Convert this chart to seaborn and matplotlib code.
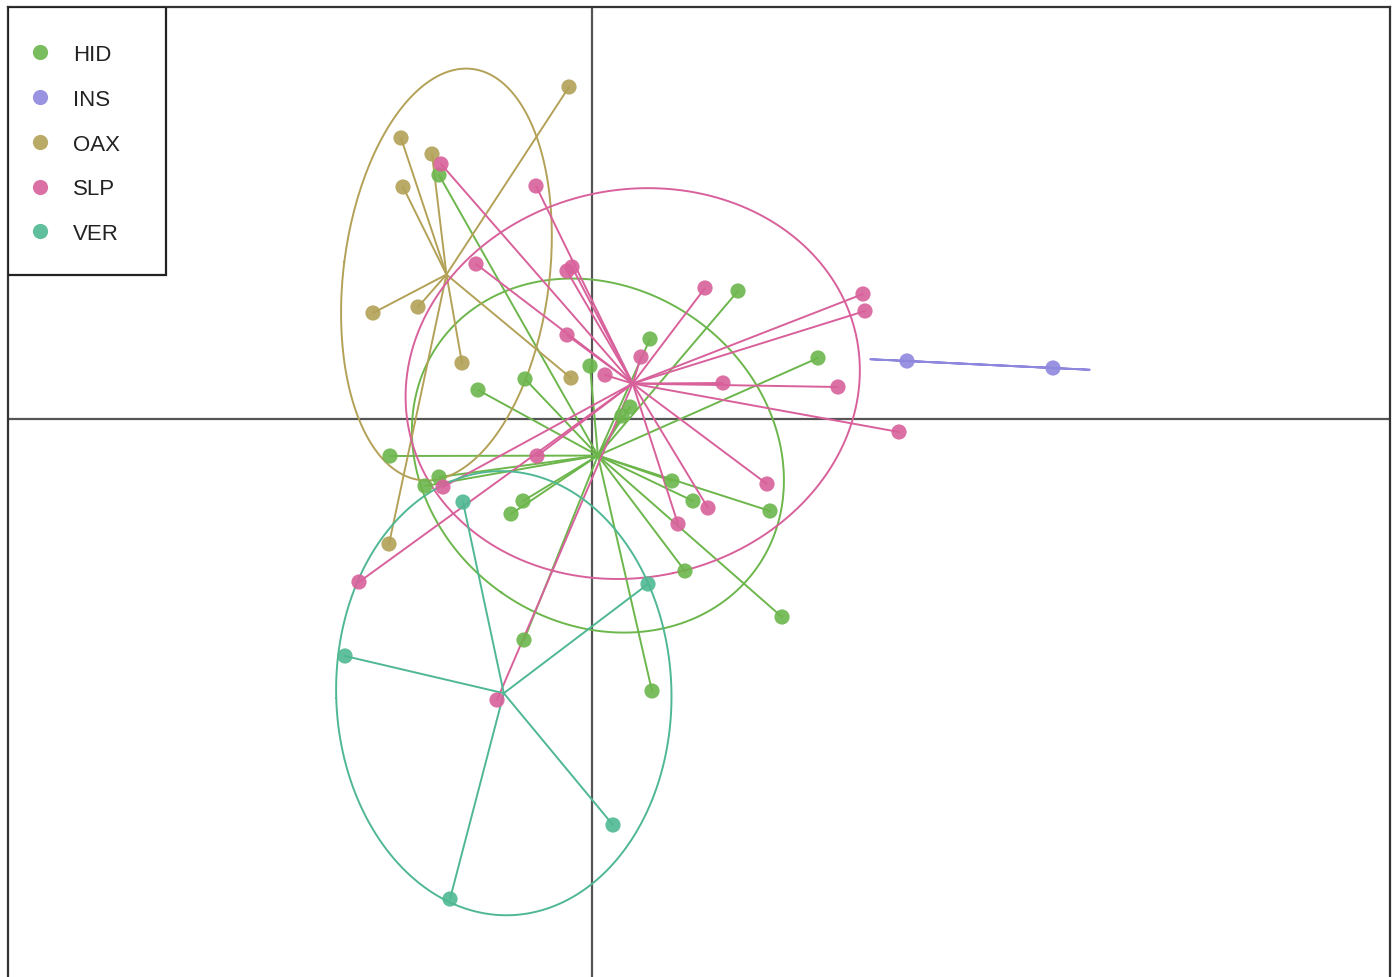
import numpy as np
import pandas as pd
import matplotlib
matplotlib.use("Agg")
import matplotlib.pyplot as plt
from matplotlib.patches import Rectangle
import seaborn as sns

# Factorial map scores (axis 1, axis 2) by population
hid_x = [-1.53, 0.58, 1.46, 2.26, -0.02, -0.67, -1.14, -2.02, -1.67, -1.53, -0.69,
         -0.81, -0.68, 0.38, 0.30, 0.80, 1.01, 1.78, 0.93, 1.90, 0.60]
hid_y = [2.44, 0.80, 1.28, 0.61, 0.53, 0.40, 0.29, -0.37, -0.67, -0.58, -0.82,
         -0.95, -2.21, 0.12, 0.03, -0.62, -0.82, -0.92, -1.52, -1.98, -2.72]

ins_x = [3.15, 4.61]
ins_y = [0.58, 0.51]

oax_x = [-1.91, -1.60, -1.89, -0.23, -2.19, -1.74, -1.30, -0.21, -2.03]
oax_y = [2.81, 2.65, 2.32, 3.32, 1.06, 1.12, 0.56, 0.41, -1.25]

slp_x = [-1.51, -0.56, -1.16, -0.25, -0.20, -0.25, 0.13, 0.49, 1.13, 2.71, 2.73,
         1.31, 2.46, 3.07, -0.55, -1.49, -2.33, -0.95, 1.75, 1.16, 0.86]
slp_y = [2.55, 2.33, 1.55, 1.48, 1.52, 0.84, 0.44, 0.62, 1.31, 1.25, 1.08,
         0.36, 0.32, -0.13, -0.37, -0.68, -1.63, -2.81, -0.65, -0.89, -1.05]

ver_x = [-1.29, -2.47, 0.56, 0.21, -1.42]
ver_y = [-0.83, -2.37, -1.65, -4.06, -4.80]

groups = ["HID", "INS", "OAX", "SLP", "VER"]
palette = {"HID": "#6cb64c", "INS": "#8e87de", "OAX": "#b3a158",
           "SLP": "#d8619b", "VER": "#4fb893"}

df = pd.concat([
    pd.DataFrame({"x": hid_x, "y": hid_y, "pop": "HID"}),
    pd.DataFrame({"x": ins_x, "y": ins_y, "pop": "INS"}),
    pd.DataFrame({"x": oax_x, "y": oax_y, "pop": "OAX"}),
    pd.DataFrame({"x": slp_x, "y": slp_y, "pop": "SLP"}),
    pd.DataFrame({"x": ver_x, "y": ver_y, "pop": "VER"}),
], ignore_index=True)

sns.set_theme(style="white")
plt.rcParams["font.family"] = ["Liberation Sans", "DejaVu Sans"]

W, H = 1397, 978
fig = plt.figure(figsize=(W / 100, H / 100), dpi=100)
# axes frame: left 8px, right 1390px, top 8px, bottom below the canvas
left_px, right_px, top_px, bot_px = 8, 1390, 8, 990
ax = fig.add_axes([left_px / W, 1 - bot_px / H,
                   (right_px - left_px) / W, (bot_px - top_px) / H])
ox, oy = 592, 420
ax.set_xlim((left_px - ox) / 100, (right_px - ox) / 100)
ax.set_ylim((oy - bot_px) / 100, (oy - top_px) / 100)

# reference axes through the origin
ax.axhline(0, color="#555555", lw=1.6, zorder=1)
ax.axvline(0, color="#555555", lw=1.6, zorder=1)

t = np.linspace(0, 2 * np.pi, 200)
for g in groups:
    sub = df[df["pop"] == g]
    px, py = sub["x"].to_numpy(), sub["y"].to_numpy()
    mx, my = px.mean(), py.mean()
    col = palette[g]
    # star: centroid to each individual
    for xi, yi in zip(px, py):
        ax.plot([mx, xi], [my, yi], color=col, lw=1.4, zorder=2)
    # inertia ellipse (1.5 standard deviations)
    cov = np.cov(np.vstack([px, py]), bias=True)
    vals, vecs = np.linalg.eigh(cov)
    vals = np.clip(vals, 0, None)
    L = vecs * np.sqrt(vals)
    e = 1.5 * L @ np.vstack([np.cos(t), np.sin(t)])
    ax.plot(mx + e[0], my + e[1], color=col, lw=1.4, zorder=2)

sns.scatterplot(data=df, x="x", y="y", hue="pop", hue_order=groups,
                palette=palette, s=120, alpha=0.9, linewidth=0,
                ax=ax, zorder=3, legend=True)

ax.set_xticks([])
ax.set_yticks([])
ax.set_xlabel("")
ax.set_ylabel("")
for sp in ax.spines.values():
    sp.set_color("#333333")
    sp.set_linewidth(1.6)

# legend box
ax.add_patch(Rectangle((0, 1 - (276 - top_px) / (bot_px - top_px)),
                       (166 - left_px) / (right_px - left_px),
                       (276 - top_px) / (bot_px - top_px),
                       transform=ax.transAxes, fill=True, facecolor="white",
                       edgecolor="#222222", lw=1.6, zorder=5))
handles, labels = ax.get_legend_handles_labels()
leg = ax.legend(handles, labels, loc="upper left",
                bbox_to_anchor=((16 - left_px) / (right_px - left_px),
                                1 - (34 - top_px) / (bot_px - top_px)),
                frameon=False, fontsize=16, labelspacing=1.07,
                handletextpad=0.85, handlelength=1.2, borderpad=0,
                markerscale=1.0)
leg.set_zorder(6)
for txt in leg.get_texts():
    txt.set_color("#222222")

fig.savefig("out.png", dpi=100)
